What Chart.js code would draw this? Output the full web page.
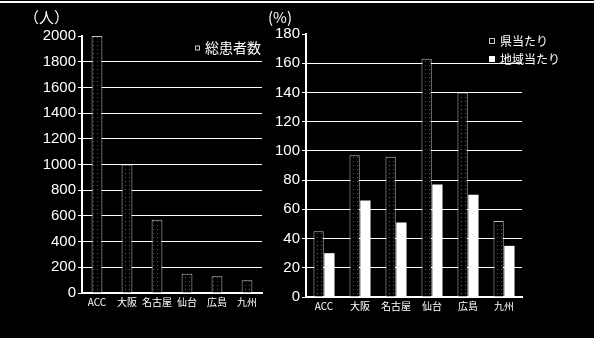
<!DOCTYPE html>
<html>
<head>
<meta charset="utf-8">
<script src="https://cdn.jsdelivr.net/npm/chart.js@4.4.0/dist/chart.umd.min.js"></script>
<style>
  html, body { margin: 0; padding: 0; background: #000; }
  #page { position: relative; width: 594px; height: 338px; background: #000; overflow: hidden; }
  #topline { position: absolute; left: 0; top: 1px; width: 594px; height: 2px; background: #fff; }
  canvas { position: absolute; top: 0; }
  #leftChart { left: 0; }
  #rightChart { left: 260px; }
</style>
</head>
<body>
<div id="page">
  <div id="topline"></div>
  <canvas id="leftChart" width="280" height="338"></canvas>
  <canvas id="rightChart" width="334" height="338"></canvas>
</div>
<script>
// data
const categories = ['ACC', '大阪', '名古屋', '仙台', '広島', '九州'];
const totalPatients = [2000, 1000, 570, 150, 130, 100];
const perPrefecture = [45, 97, 96, 163, 140, 52];
const perRegion = [30, 66, 51, 77, 70, 35];
const leftTicks = [0, 200, 400, 600, 800, 1000, 1200, 1400, 1600, 1800, 2000];
const rightTicks = [0, 20, 40, 60, 80, 100, 120, 140, 160, 180];

const numFont = "'Liberation Sans', 'Noto Sans CJK JP', sans-serif";
const jpFont = "'Noto Sans CJK JP', sans-serif";

// stippled fill like the scanned hollow bars
function dotPattern() {
    const c = document.createElement('canvas');
    c.width = 4; c.height = 4;
    const g = c.getContext('2d');
    g.fillStyle = '#000';
    g.fillRect(0, 0, 4, 4);
    g.fillStyle = 'rgba(255,255,255,0.35)';
    g.fillRect(1, 1, 1, 1);
    return g.createPattern(c, 'repeat');
}
const stipple = dotPattern();

// unit label above the y axis + legend drawn on top
const decor = {
    id: 'decor',
    afterDraw(chart, args, opts) {
        const ctx = chart.ctx;
        ctx.save();
        ctx.fillStyle = '#fff';
        ctx.textBaseline = 'middle';
        ctx.font = '15px ' + jpFont;
        ctx.fillText(opts.unit, opts.unitX, opts.unitY);
        ctx.font = opts.legendSize + 'px ' + jpFont;
        chart.data.datasets.forEach((ds, i) => {
            const y = opts.legendY + i * opts.legendGap;
            const s = opts.boxSize;
            if (ds.legendSolid) {
                ctx.fillStyle = '#fff';
                ctx.fillRect(opts.legendX, y - s / 2, s, s);
            } else {
                ctx.strokeStyle = 'rgba(255,255,255,0.8)';
                ctx.lineWidth = 1;
                ctx.strokeRect(opts.legendX + 0.5, y - s / 2 + 0.5, s - 1, s - 1);
            }
            ctx.fillStyle = '#fff';
            ctx.fillText(ds.label, opts.legendX + s + 5, y);
        });
        ctx.restore();
    }
};

function yScale(max, ticks, width) {
    return {
        min: 0,
        max: max,
        afterBuildTicks: (scale) => { scale.ticks = ticks.map(v => ({ value: v })); },
        afterFit: (scale) => { scale.width = width; },
        ticks: { color: '#fff', font: { family: numFont, size: 15 }, padding: 2, callback: (v) => String(v) },
        grid: {
            color: (c) => (c.tick && c.tick.value === max) ? 'rgba(0,0,0,0)' : '#fff',
            tickColor: '#fff',
            tickLength: 4,
            lineWidth: 1
        },
        border: { display: true, color: '#fff', width: 2 }
    };
}

function xScale() {
    return {
        afterFit: (scale) => { scale.height = 20; },
        ticks: { color: '#fff', font: { family: jpFont, size: 10 }, padding: 3, maxRotation: 0, autoSkip: false },
        grid: { display: false, drawTicks: false },
        border: { display: true, color: '#fff', width: 2 }
    };
}

new Chart(document.getElementById('leftChart'), {
    type: 'bar',
    data: {
        labels: categories,
        datasets: [{
            label: '総患者数',
            data: totalPatients,
            backgroundColor: stipple,
            borderColor: 'rgba(255,255,255,0.75)',
            borderWidth: 1,
            barPercentage: 0.36,
            categoryPercentage: 1
        }]
    },
    options: {
        responsive: false,
        animation: false,
        layout: { padding: { left: 42, right: 18, top: 36, bottom: 25 } },
        scales: { x: xScale(), y: yScale(2000, leftTicks, 40) },
        plugins: {
            legend: { display: false },
            tooltip: { enabled: false },
            decor: { unit: '（人）', unitX: 24, unitY: 17, legendX: 195, legendY: 48, legendGap: 18, boxSize: 5, legendSize: 14 }
        }
    },
    plugins: [decor]
});

new Chart(document.getElementById('rightChart'), {
    type: 'bar',
    data: {
        labels: categories,
        datasets: [{
            label: '県当たり',
            data: perPrefecture,
            backgroundColor: stipple,
            borderColor: 'rgba(255,255,255,0.75)',
            borderWidth: 1,
            barPercentage: 0.95,
            categoryPercentage: 0.6
        }, {
            label: '地域当たり',
            data: perRegion,
            legendSolid: true,
            backgroundColor: '#fff',
            borderColor: '#fff',
            borderWidth: 0,
            barPercentage: 0.95,
            categoryPercentage: 0.6
        }]
    },
    options: {
        responsive: false,
        animation: false,
        layout: { padding: { left: 16, right: 72, top: 34, bottom: 21 } },
        scales: { x: xScale(), y: yScale(180, rightTicks, 30) },
        plugins: {
            legend: { display: false },
            tooltip: { enabled: false },
            decor: { unit: '(%)', unitX: 8, unitY: 17, legendX: 229, legendY: 41, legendGap: 18, boxSize: 6, legendSize: 12 }
        }
    },
    plugins: [decor]
});
</script>
</body>
</html>
